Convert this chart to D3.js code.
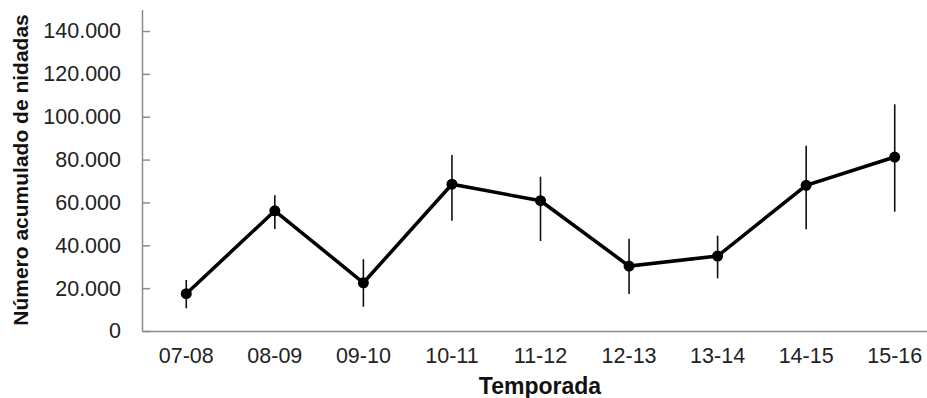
<!DOCTYPE html>
<html>
<head>
<meta charset="utf-8">
<style>
  body { margin: 0; background: #fff; }
  svg { display: block; font-family: "Liberation Sans", Arial, sans-serif; }
  .axis .domain { stroke: #8c8c8c; stroke-width: 1.5; }
  .y .tick line { stroke: #8c8c8c; stroke-width: 1.5; }
  .x .tick line { display: none; }
  .tick text { font-family: "Liberation Sans", Arial, sans-serif; font-size: 21.5px; fill: #222; }
</style>
</head>
<body>
<svg width="927" height="398"></svg>
<script src="https://d3js.org/d3.v7.min.js"></script>
<script>
// seasons and cumulative nest counts with error bar ends
let seasons = ["07-08", "08-09", "09-10", "10-11", "11-12", "12-13", "13-14", "14-15", "15-16"];
let values  = [17400, 56100, 22500, 68500, 60800, 30300, 35000, 68000, 81200];
let lows    = [10600, 47600, 11300, 51500, 42000, 17300, 24600, 47500, 55700];
let highs   = [23800, 63300, 33500, 82100, 72000, 43100, 44500, 86500, 105800];
let yTicks  = [0, 20000, 40000, 60000, 80000, 100000, 120000, 140000];

let data = seasons.map((s, i) => ({ s: s, v: values[i], lo: lows[i], hi: highs[i] }));

let svg = d3.select("svg");

let x = d3.scaleBand()
    .domain(seasons)
    .range([142, 939])
    .padding(0);

let y = d3.scaleLinear()
    .domain([0, 150000])
    .range([331, 9.6]);

let fmt = d => d3.format(",")(d).replace(/,/g, ".");

// y axis, ticks pointing inward
svg.append("g")
    .attr("class", "y axis")
    .attr("transform", "translate(142,0)")
    .call(d3.axisLeft(y)
        .tickValues(yTicks)
        .tickSizeInner(-8)
        .tickSizeOuter(0)
        .tickPadding(21)
        .tickFormat(fmt));

// x axis
svg.append("g")
    .attr("class", "x axis")
    .attr("transform", "translate(0,331)")
    .call(d3.axisBottom(x).tickSize(0).tickPadding(17))
    .call(g => g.selectAll(".tick text").attr("dy", "0.71em"));

let cx = d => x(d.s) + x.bandwidth() / 2;

// error bars
svg.append("g")
    .selectAll("line")
    .data(data)
    .join("line")
    .attr("x1", cx)
    .attr("x2", cx)
    .attr("y1", d => y(d.lo))
    .attr("y2", d => y(d.hi))
    .style("stroke", "#111")
    .style("stroke-width", 1.6);

// line
svg.append("path")
    .datum(data)
    .attr("d", d3.line().x(cx).y(d => y(d.v)))
    .style("fill", "none")
    .style("stroke", "#000")
    .style("stroke-width", 3.5);

// markers
svg.append("g")
    .selectAll("circle")
    .data(data)
    .join("circle")
    .attr("cx", cx)
    .attr("cy", d => y(d.v))
    .attr("r", 5.5)
    .style("fill", "#000");

// axis titles
svg.append("text")
    .attr("x", 540)
    .attr("y", 394)
    .attr("text-anchor", "middle")
    .style("font-weight", "bold")
    .style("font-size", "23px")
    .style("fill", "#111")
    .text("Temporada");

svg.append("text")
    .attr("transform", "translate(28,170) rotate(-90)")
    .attr("text-anchor", "middle")
    .style("font-weight", "bold")
    .style("font-size", "21px")
    .style("fill", "#111")
    .text("Número acumulado de nidadas");
</script>
</body>
</html>
